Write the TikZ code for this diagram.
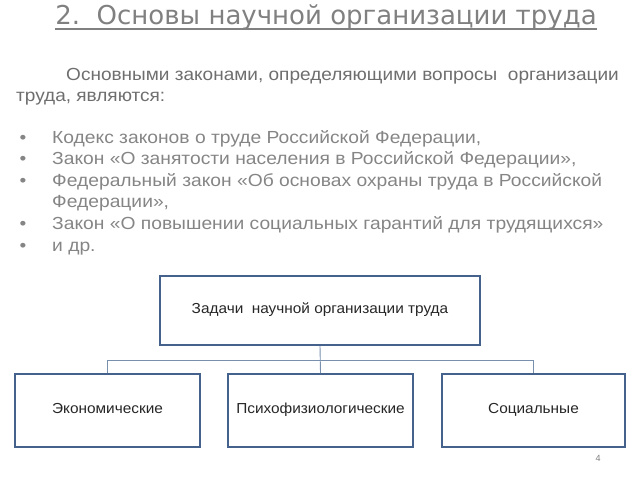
\documentclass[tikz,border=0pt]{standalone}
\usepackage{fontspec}
\setmainfont{Liberation Sans}
\newfontfamily\titlefont{DejaVu Sans}
\newfontfamily\parafont[FakeStretch=1.087]{Liberation Sans}
\newfontfamily\bulfont[FakeStretch=1.1]{Liberation Sans}
\newfontfamily\boxfont[FakeStretch=1.06]{Liberation Sans}
\usetikzlibrary{shadows}
\definecolor{titlegray}{HTML}{808080}
\definecolor{paragray}{HTML}{6E6E6E}
\definecolor{bulletgray}{HTML}{858585}
\definecolor{boxblue}{HTML}{44628C}
\definecolor{linkblue}{HTML}{7890AE}
\begin{document}
\begin{tikzpicture}[x=1pt,y=-1pt,
  txt/.style={anchor=base west,inner sep=0pt},
  para/.style={txt,text=paragray,font=\parafont\fontsize{17.5}{21}\selectfont},
  bul/.style={txt,text=bulletgray,font=\bulfont\fontsize{17.5}{21}\selectfont},
  taskbox/.style={draw=boxblue,line width=1.7pt,fill=white,
    drop shadow={shadow xshift=1.3pt,shadow yshift=-1.3pt,opacity=0.35},
    inner sep=0pt,text height=0.72em,text depth=0.22em,
    font=\boxfont\fontsize{14.5}{16}\selectfont,text=black!85},
  link/.style={draw=linkblue,line width=0.9pt}]
\useasboundingbox (0,0) rectangle (640,480);
\node[anchor=base,inner sep=0pt,text=titlegray,font=\titlefont\fontsize{26}{30}\selectfont] (title) at (326,24.5)
  {2.\ \ Основы научной организации труда};
\coordinate (ul) at (0,29);
\draw[titlegray,line width=1.8pt] (title.west |- ul) -- (title.east |- ul);
\node[para] (p1) at (66,80) {Основными законами, определяющими вопросы\ \ организации};
\node[para] (p2) at (16,101) {труда, являются:};
\foreach \i/\yy/\t in {
  b1/143/{Кодекс законов о труде Российской Федерации,},
  b2/164/{Закон «О занятости населения в Российской Федерации»,},
  b3/186/{Федеральный закон «Об основах охраны труда в Российской},
  b5/229/{Закон «О повышении социальных гарантий для трудящихся»},
  b6/251/{и др.}}{
  \node[bul] (\i) at (52,\yy) {\t};
  \node[bul,anchor=base] (\i d) at (23,\yy) {•};
}
\node[bul] (b4) at (52,207) {Федерации»,};
\node[taskbox,minimum width=320pt,minimum height=69pt] (top) at (320,310.5) {Задачи\ \ научной организации труда};
\node[taskbox,minimum width=185pt,minimum height=73pt] (eco) at (107.5,410.5) {Экономические};
\node[taskbox,minimum width=185pt,minimum height=73pt] (psy) at (320.5,410.5) {Психофизиологические};
\node[taskbox,minimum width=183pt,minimum height=73pt] (soc) at (533.5,410.5) {Социальные};
\coordinate (bus) at (320,360);
\draw[link] (top.south) -- (psy.north);
\draw[link] (eco.north) -- (eco.north |- bus) -- (soc.north |- bus) -- (soc.north);
\node[anchor=base,inner sep=0pt,text=gray,font=\fontsize{9}{10}\selectfont] (pg) at (598,461) {4};
\end{tikzpicture}
\end{document}
